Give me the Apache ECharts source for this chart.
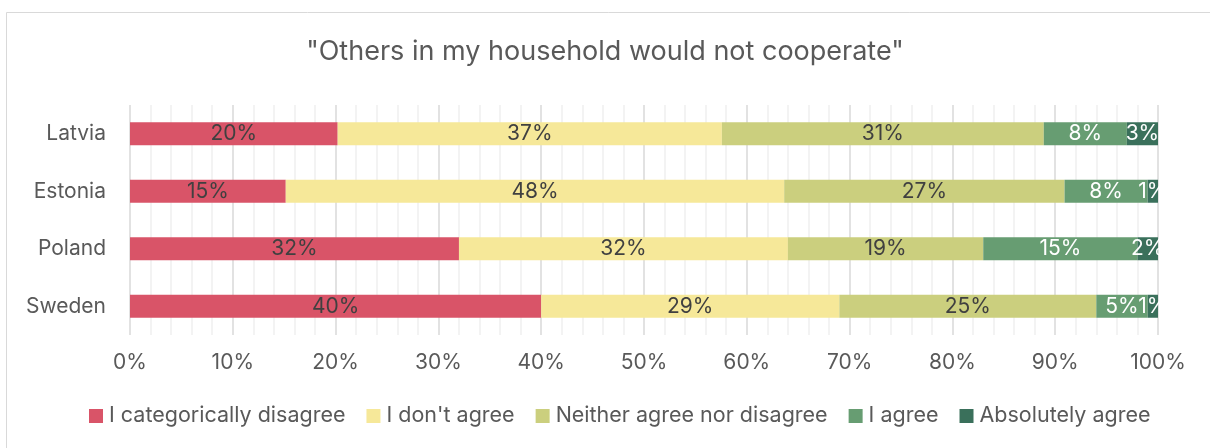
<!DOCTYPE html>
<html>
<head>
<meta charset="utf-8">
<script src="https://cdn.jsdelivr.net/npm/echarts@6/dist/echarts.min.js"></script>
<style>
  html, body { margin: 0; padding: 0; background: #fff; }
  #chart { width: 1210px; height: 448px; }
</style>
</head>
<body>
<div id="chart"></div>
<script>
// Survey answers per country, in rounded percent as reported
const countries = ['Latvia', 'Estonia', 'Poland', 'Sweden'];
const categoricallyDisagree = [20, 15, 32, 40];
const dontAgree = [37, 48, 32, 29];
const neither = [31, 27, 19, 25];
const agree = [8, 8, 15, 5];
const absolutelyAgree = [3, 1, 2, 1];
const answerNames = ['I categorically disagree', "I don't agree", 'Neither agree nor disagree', 'I agree', 'Absolutely agree'];
const xTicks = [0, 10, 20, 30, 40, 50, 60, 70, 80, 90, 100];

const answerSets = [categoricallyDisagree, dontAgree, neither, agree, absolutelyAgree];
const colors = ['#d95468', '#f6e899', '#cbcf7e', '#679d72', '#3a705b'];
const labelColors = ['#404040', '#404040', '#404040', '#ffffff', '#ffffff'];

// 100% stacked: each country's answers are scaled to fill the full row
const rowTotals = countries.map((_, i) => answerSets.reduce((s, arr) => s + arr[i], 0));

const FONT = 'Inter, "Noto Sans", sans-serif';

const series = answerSets.map((arr, k) => ({
  name: answerNames[k],
  type: 'bar',
  stack: 'total',
  barCategoryGap: '60%',
  itemStyle: { color: colors[k] },
  label: {
    show: true,
    position: 'inside',
    color: labelColors[k],
    fontFamily: FONT,
    fontSize: 21,
    formatter: p => arr[p.dataIndex] + '%'
  },
  emphasis: { disabled: true },
  data: arr.map((v, i) => v / rowTotals[i] * 100)
}));

const chart = echarts.init(document.getElementById('chart'), null, { renderer: 'canvas' });
chart.setOption({
  animation: false,
  backgroundColor: '#ffffff',
  graphic: [{
    type: 'rect',
    shape: { x: 6.5, y: 12.5, width: 1220, height: 460 },
    style: { fill: 'none', stroke: '#d9d9d9', lineWidth: 1 },
    silent: true
  }],
  title: {
    text: '"Others in my household would not cooperate"',
    left: 'center',
    top: 33,
    textStyle: { fontFamily: FONT, fontSize: 27, fontWeight: 'normal', color: '#595959' }
  },
  legend: {
    bottom: 16,
    left: 84,
    itemWidth: 14,
    itemHeight: 14,
    itemGap: 21,
    icon: 'rect',
    textStyle: { fontFamily: FONT, fontSize: 21.5, color: '#595959', padding: [0, 0, 0, 1] },
    data: answerNames
  },
  grid: { left: 130, right: 52, top: 105, bottom: 113, containLabel: false },
  xAxis: {
    type: 'value',
    min: xTicks[0],
    max: xTicks[xTicks.length - 1],
    interval: xTicks[1] - xTicks[0],
    axisLine: { show: false },
    axisTick: { show: false },
    axisLabel: { formatter: '{value}%', margin: 17, fontFamily: FONT, fontSize: 21, color: '#595959' },
    splitLine: { show: true, lineStyle: { color: '#d9d9d9', width: 1.5 } },
    minorTick: { show: false, splitNumber: 5 },
    minorSplitLine: { show: true, lineStyle: { color: '#f0f0f0', width: 1.5 } }
  },
  yAxis: {
    type: 'category',
    inverse: true,
    data: countries,
    axisLine: { show: false },
    axisTick: { show: false },
    axisLabel: { margin: 24, fontFamily: FONT, fontSize: 21, color: '#595959' }
  },
  series: series
});
</script>
</body>
</html>
